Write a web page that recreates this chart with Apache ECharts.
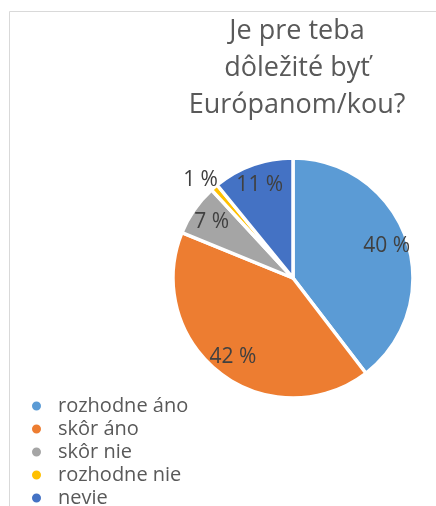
<!DOCTYPE html>
<html>
<head>
<meta charset="utf-8">
<script src="https://cdn.jsdelivr.net/npm/echarts@6/dist/echarts.min.js"></script>
<style>
  html, body { margin: 0; padding: 0; background: #fff; }
  #chart { width: 436px; height: 506px; }
</style>
</head>
<body>
<div id="chart"></div>
<script>
const titleText = 'Je pre teba\ndôležité byť\nEurópanom/kou?';
const categories = ['rozhodne áno', 'skôr áno', 'skôr nie', 'rozhodne nie', 'nevie'];
const values = [40, 42, 7, 1, 11];
const colors = ['#5B9BD5', '#ED7D31', '#A5A5A5', '#FFC000', '#4472C4'];

const font = 'Open Sans';
const chart = echarts.init(document.getElementById('chart'));

const pieData = categories.map((name, i) => ({
  name,
  value: values[i],
  itemStyle: { color: colors[i] }
}));

// overlay ring only carries the labels (midpoint of ring ≈ 0.8 r)
const labelData = categories.map((name, i) => {
  const item = { name, value: values[i] };
  if (values[i] < 3) {
    item.label = { position: 'outside', offset: [10, -6] };
    item.labelLine = { show: false, length: 2, length2: 0 };
  }
  return item;
});

chart.setOption({
  animation: false,
  title: {
    text: titleText,
    left: 292,
    top: 8,
    textAlign: 'center',
    textStyle: { fontFamily: font, fontSize: 27, fontWeight: 'normal', color: '#595959', lineHeight: 37 }
  },
  graphic: [{
    type: 'rect',
    shape: { x: 9.5, y: 11.5, width: 1000, height: 1000 },
    style: { fill: 'none', stroke: '#d9d9d9', lineWidth: 1 },
    silent: true
  }],
  legend: {
    orient: 'vertical',
    left: 25,
    top: 391,
    height: 200,
    icon: 'circle',
    itemWidth: 11,
    itemHeight: 11,
    itemGap: 3,
    data: categories,
    textStyle: { fontFamily: font, fontSize: 20, lineHeight: 18, color: '#595959', padding: [0, 0, 0, 11] }
  },
  series: [
    {
      type: 'pie',
      center: [293, 278],
      radius: 120,
      startAngle: 90,
      clockwise: true,
      data: pieData,
      label: { show: false },
      labelLine: { show: false },
      itemStyle: { borderColor: '#fff', borderWidth: 3.5 },
      emphasis: { disabled: true }
    },
    {
      type: 'pie',
      center: [293, 278],
      radius: [72, 120],
      startAngle: 90,
      clockwise: true,
      silent: true,
      data: labelData,
      itemStyle: { color: 'rgba(0,0,0,0)' },
      label: {
        show: true,
        position: 'inside',
        formatter: '{c} %',
        fontFamily: font,
        fontSize: 21,
        color: '#404040'
      },
      labelLine: { show: false },
      emphasis: { disabled: true }
    }
  ]
});
</script>
</body>
</html>
